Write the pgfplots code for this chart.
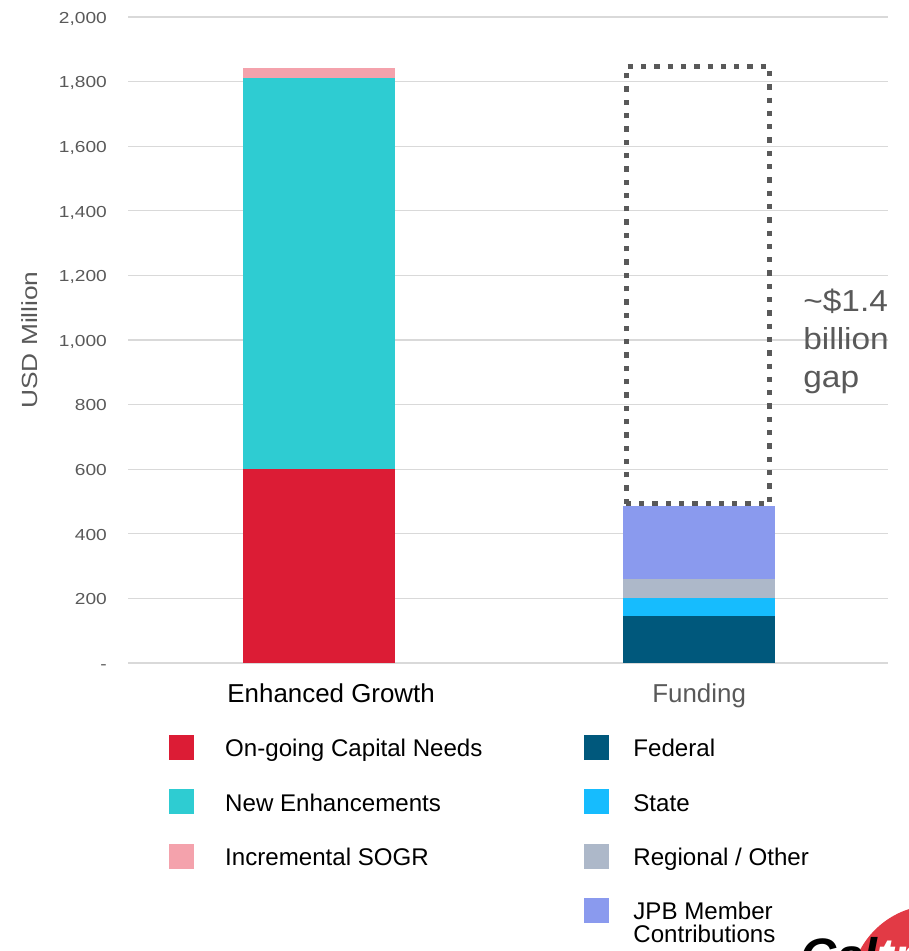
\documentclass[border=0pt]{standalone}
\usepackage{pgfplots}
\usepackage{pgfplotstable}
\pgfplotsset{compat=1.18}
\usepackage{fontspec}
\setmainfont{Liberation Sans}
\newfontfamily\tickfont{Liberation Sans}[FakeStretch=1.2]
\newfontfamily\gapfont{Liberation Sans}[FakeStretch=1.1]
\definecolor{cRed}{HTML}{DC1C35}
\definecolor{cTeal}{HTML}{2ECCD2}
\definecolor{cPink}{HTML}{F4A2AC}
\definecolor{cFed}{HTML}{00587C}
\definecolor{cState}{HTML}{16BCFE}
\definecolor{cReg}{HTML}{ADB8C9}
\definecolor{cJPB}{HTML}{8A9AEE}
\definecolor{cTxt}{HTML}{595959}
\definecolor{cGrid}{HTML}{D9D9D9}
\definecolor{cLogo}{HTML}{E23A45}

\pgfplotsset{
  sq/.style={legend image code/.code={\fill[#1] (0bp,-12bp) rectangle (24bp,12bp); \path[draw=none,fill=none] (0bp,0bp) rectangle (56bp,0.1bp);}},
  sqr/.style={legend image code/.code={\fill[#1] (0bp,-12bp) rectangle (24bp,12bp); \path[draw=none,fill=none] (0bp,0bp) rectangle (49bp,0.1bp);}},
}
\newcommand{\lt}[1]{\rule[-3bp]{0pt}{23.6bp}\smash{#1}}

\pgfplotstableread{
x red teal pink fed state reg jpb
0 600 1211 31 0 0 0 0
1 0 0 0 146 55 59 226
}\data

\begin{document}
\begin{tikzpicture}
\useasboundingbox (0,0) rectangle (909bp,-951bp);
\begin{axis}[
  at={(128bp,-663bp)}, anchor=south west,
  scale only axis, width=760bp, height=646bp,
  ybar stacked, bar width=0.4,
  xmin=-0.503, xmax=1.497, ymin=0, ymax=2000,
  enlargelimits=false, clip=false,
  axis line style={draw=none}, major tick length=0pt,
  /pgf/number format/assume math mode=true,
  xtick={0,1},
  xticklabels={{\hspace{24bp}Enhanced Growth},{\color{cTxt}Funding}},
  xticklabel style={font=\fontsize{26}{30}\selectfont, anchor=base, inner sep=0pt, yshift=-39.5bp},
  ytick={0,200,400,600,800,1000,1200,1400,1600,1800,2000},
  yticklabels={-,200,400,600,800,{1,000},{1,200},{1,400},{1,600},{1,800},{2,000}},
  yticklabel style={font=\tickfont\fontsize{16}{19}\selectfont, text=cTxt, anchor=base east, inner sep=0pt, xshift=-21bp, yshift=-6.3bp},
  ymajorgrids, major grid style={cGrid, line width=1.3bp},
  ylabel={USD Million},
  ylabel style={at={(axis description cs:-0.129,0.5)}, anchor=center, font=\tickfont\fontsize{22}{26}\selectfont, text=cTxt},
  legend columns=2, legend cell align=left,
  legend style={at={(0.05395,-0.11146)}, anchor=north west, draw=none, fill=none,
    inner sep=0pt, outer sep=0pt, row sep=30bp, column sep=0pt,
    font=\fontsize{24.2}{28}\selectfont, nodes={inner sep=0pt}},
]
\addlegendimage{sq=cRed}\addlegendentry{\makebox[359bp][l]{\lt{On-going Capital Needs}}}
\addlegendimage{sqr=cFed}\addlegendentry{\lt{Federal}}
\addlegendimage{sq=cTeal}\addlegendentry{\makebox[359bp][l]{\lt{New Enhancements}}}
\addlegendimage{sqr=cState}\addlegendentry{\lt{State}}
\addlegendimage{sq=cPink}\addlegendentry{\makebox[359bp][l]{\lt{Incremental SOGR}}}
\addlegendimage{sqr=cReg}\addlegendentry{\lt{Regional / Other}}
\addlegendimage{empty legend}\addlegendentry{}
\addlegendimage{sqr=cJPB}\addlegendentry{\lt{\rlap{\raisebox{-23bp}{Contributions}}JPB Member}}

\addplot[fill=cRed, draw=none] table[x=x, y=red] {\data};
\addplot[fill=cTeal, draw=none] table[x=x, y=teal] {\data};
\addplot[fill=cPink, draw=none] table[x=x, y=pink] {\data};
\addplot[fill=cFed, draw=none] table[x=x, y=fed] {\data};
\addplot[fill=cState, draw=none] table[x=x, y=state] {\data};
\addplot[fill=cReg, draw=none] table[x=x, y=reg] {\data};
\addplot[fill=cJPB, draw=none] table[x=x, y=jpb] {\data};

\draw[cTxt, line width=5.3bp, dash pattern=on 5.3bp off 8bp] (axis cs:0.808,492) rectangle (axis cs:1.186,1846);
\node[anchor=north west, inner sep=0pt, align=left, text=cTxt, font=\gapfont\fontsize{30.5}{38}\selectfont] at (axis cs:1.2737,1157) {\textasciitilde\$1.4\\billion\\gap};
\end{axis}
\fill[cLogo] (935bp,-990bp) circle (85bp);
\node[anchor=base west, inner sep=0pt] at (800bp,-973bp) {\fontsize{50}{50}\selectfont\bfseries\itshape Cal\textcolor{white}{train}};
\end{tikzpicture}
\end{document}
